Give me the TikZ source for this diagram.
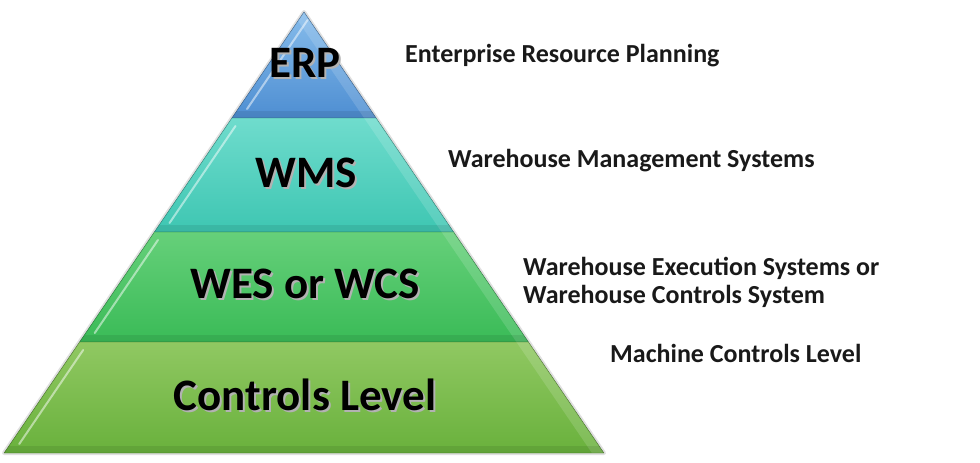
\documentclass[tikz,border=0pt]{standalone}
\usepackage{fontspec}
\setmainfont{Carlito}
\usetikzlibrary{positioning}
\definecolor{erpTop}{HTML}{86BCEB}
\definecolor{erpBot}{HTML}{4E8ED2}
\definecolor{wmsTop}{HTML}{6FDCCD}
\definecolor{wmsBot}{HTML}{3EC6B2}
\definecolor{wesTop}{HTML}{66D07A}
\definecolor{wesBot}{HTML}{3ABB57}
\definecolor{ctlTop}{HTML}{90C862}
\definecolor{ctlBot}{HTML}{69B13C}
\newcommand\lvltext[1]{\makebox[0pt][l]{\hspace{2pt}\raisebox{-2pt}{\color{black!30}#1}}#1}
\tikzset{
  level/.style={font=\fontsize{45}{50}\selectfont\bfseries, anchor=base, inner sep=0pt},
  note/.style={font=\fontsize{26}{28}\selectfont\bfseries, text=black!90, anchor=base west, inner sep=0pt, align=left},
}

\begin{document}
\begin{tikzpicture}[x=1pt,y=-1pt]
\useasboundingbox (0,0) rectangle (980,463);
% soft shadow round the pyramid
\draw[black, opacity=.12, line width=4pt, line join=round] (304,12) -- (604,453) -- (4,453) -- cycle;
% the four bands
\foreach \yt/\yb/\nm in {12/118/erp,118/232/wms,232/342/wes,342/453/ctl}{
  \pgfmathsetmacro\wtop{0.68*(\yt-12)}
  \pgfmathsetmacro\wbot{0.68*(\yb-12)}
  \pgfmathsetmacro\htop{0.68*(\yt-4)}
  \pgfmathsetmacro\hbot{0.68*(\yb-21)}
  \begin{scope}
    \path[clip] (304-\wtop,\yt) -- (304+\wtop,\yt) -- (304+\wbot,\yb) -- (304-\wbot,\yb) -- cycle;
    \fill[top color=\nm Top, bottom color=\nm Bot] (0,\yt) rectangle (980,\yb);
    \fill[white, opacity=.14] (304+\wtop,\yt) -- (304+\wbot,\yb) -- (292+\wbot,\yb) -- (292+\wtop,\yt) -- cycle;
    \fill[black, opacity=.08] (0,\yb-7) rectangle (980,\yb);
    \draw[white, opacity=.5, line width=2pt, line cap=round] (313-\htop,\yt+8) -- (313-\hbot,\yb-9);
  \end{scope}
  \draw[\nm Bot!60!black, opacity=.35, line width=.8pt, line join=round]
    (304-\wtop,\yt) -- (304+\wtop,\yt) -- (304+\wbot,\yb) -- (304-\wbot,\yb) -- cycle;
}
% level names
\node[level] (erp) at (305,77) {\lvltext{ERP}};
\node[level] (wms) at (306,187) {\lvltext{WMS}};
\node[level] (wes) at (305,298) {\lvltext{WES or WCS}};
\node[level] (ctl) at (305,410) {\lvltext{Controls Level}};
% descriptions
\node[note] (erp-note) at (405,62) {Enterprise Resource Planning};
\node[note] (wms-note) at (448,167) {Warehouse Management Systems};
\node[note] (wes-note) at (523,303) {Warehouse Execution Systems or\\Warehouse Controls System};
\node[note] (ctl-note) at (610,362) {Machine Controls Level};
\end{tikzpicture}
\end{document}
